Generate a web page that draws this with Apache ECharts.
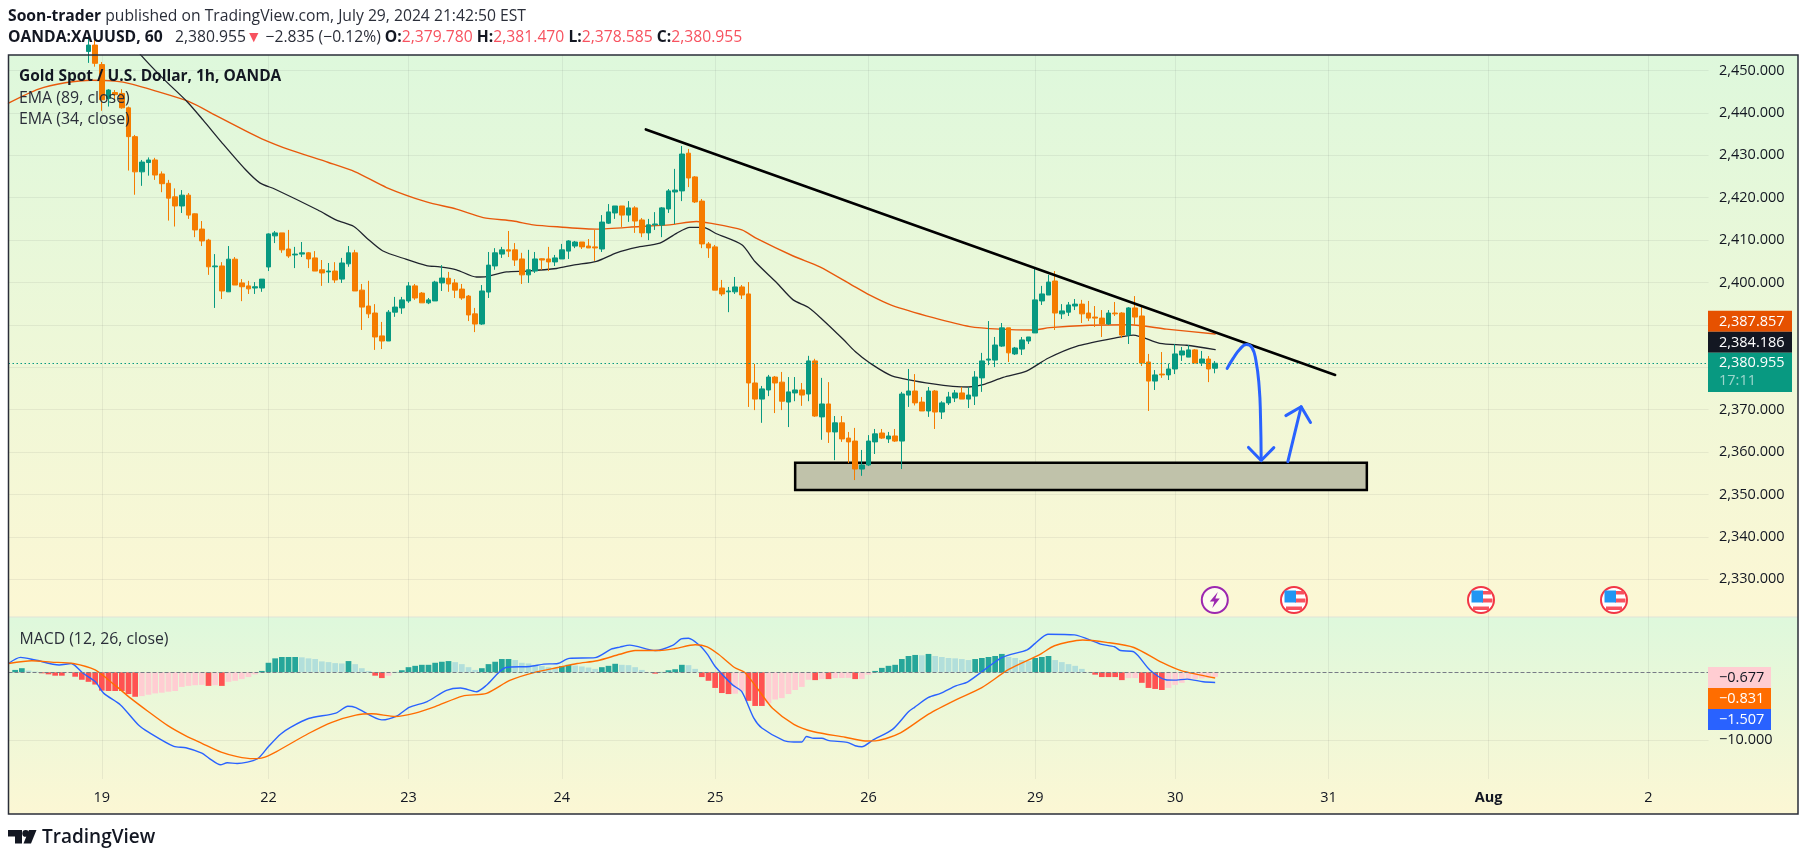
<!DOCTYPE html>
<html>
<head>
<meta charset="utf-8">
<title>XAUUSD 1h</title>
<style>
    html, body { margin: 0; padding: 0; background: #fff; }
    #chart { width: 1807px; height: 861px; }
</style>
<script src="https://cdn.jsdelivr.net/npm/echarts@6/dist/echarts.min.js"></script>
</head>
<body>
<div id="chart"></div>
<script>
// time axis: bars per day tick, as the snapshot spaced them
var barsBeforeFirstDay = 14;
var dayLabels = ['19', '22', '23', '24', '25', '26', '29', '30', '31', 'Aug', '2'];
var barsInDay = [25, 21, 23, 23, 23, 25, 21, 23, 24, 24, 10];

// price pane
var priceTicks = [2330, 2340, 2350, 2360, 2370, 2380, 2390, 2400, 2410, 2420, 2430, 2440, 2450];
var macdTicks = [-10];
var lastPrice = 2380.955;

// candles start at bar 12 (older ones are above the visible range): open, close, low, high
var firstCandleBar = 12;
var candles = [
    [2454.5, 2456, 2451.8, 2458], [2456, 2451.7, 2450.9, 2458],
    [2451.4, 2443.1, 2440.5, 2452], [2443.4, 2445.4, 2441.5, 2445.6], [2444.8, 2444.3, 2443, 2445.4],
    [2444.6, 2441.2, 2441, 2445.6], [2441.2, 2434.4, 2426.4, 2441.5], [2434.4, 2426.1, 2420.7, 2434.8],
    [2426.1, 2428.4, 2422.8, 2428.9], [2428.3, 2428.9, 2425.2, 2429.5], [2428.9, 2425.35, 2424.2, 2429.4],
    [2425.6, 2423.3, 2421.3, 2426.2], [2423.4, 2419.9, 2414.6, 2424.2], [2420.2, 2418.05, 2413.2, 2422.2],
    [2418.05, 2420.6, 2416.4, 2421.8], [2420.6, 2415.9, 2415, 2421.1], [2416.2, 2412.4, 2410.7, 2416.3],
    [2412.6, 2409.8, 2408.6, 2414.5], [2410, 2403.7, 2401.8, 2410.3], [2403.7, 2403.9, 2394, 2406.7],
    [2403.9, 2398, 2396.1, 2404.8], [2397.8, 2405.5, 2397.8, 2408.6], [2405.5, 2399.4, 2399.4, 2406],
    [2399.9, 2399, 2395.6, 2400.8], [2399.2, 2398.5, 2397.3, 2400.4], [2398.7, 2399, 2397.3, 2400.1],
    [2398.7, 2400.8, 2397.8, 2400.8],
    // 22
    [2403.66, 2411.45, 2402.7, 2411.6], [2411, 2411.7, 2409.3, 2412.15], [2411.7, 2407.7, 2407, 2411.7],
    [2407.9, 2406.25, 2405.8, 2412.4], [2406.5, 2406.7, 2403.4, 2408.4], [2406.7, 2407, 2406, 2409.55],
    [2407, 2405.55, 2403.4, 2407.2], [2405.8, 2402.7, 2402.7, 2407.4], [2403, 2402.25, 2399.2, 2405.3],
    [2402.5, 2402.7, 2399.9, 2404.6], [2402.7, 2400.6, 2399.9, 2404.8], [2400.8, 2404.6, 2399.9, 2405.8],
    [2404.4, 2407, 2403.7, 2408.6], [2407, 2398, 2398, 2407.7], [2398.2, 2394.2, 2388.8, 2399.65],
    [2394.45, 2392.6, 2391.6, 2400.4], [2392.8, 2387.15, 2384.1, 2394.9], [2387.4, 2386.2, 2384.3, 2390.7],
    [2386.2, 2393, 2386.2, 2393.5], [2393, 2394.2, 2391.9, 2396.6], [2394, 2395.9, 2392.6, 2396.6],
    // 23
    [2395.65, 2399.2, 2395.2, 2400.1], [2399.2, 2396.35, 2395.9, 2399.65], [2397.5, 2395.2, 2395.2, 2397.75],
    [2395.2, 2395.9, 2394.9, 2396.35], [2395.65, 2400.1, 2395.65, 2400.4], [2399.9, 2401.05, 2398, 2404.1],
    [2401, 2399.65, 2397.8, 2402.5], [2399.9, 2398.2, 2396.35, 2400.8], [2398.45, 2396.35, 2395.9, 2399.65],
    [2396.8, 2392.35, 2390.9, 2397.05], [2392.6, 2390.2, 2388.3, 2394], [2390.2, 2398, 2390, 2399.4],
    [2397.75, 2404.1, 2396.35, 2407.2], [2403.9, 2407, 2403, 2408.1], [2406.7, 2407.7, 2405.8, 2408.4],
    [2407.7, 2407.4, 2406, 2412.15], [2407.7, 2405.3, 2403.9, 2409.3], [2405.55, 2401.8, 2399.65, 2407],
    [2401.8, 2403, 2399.9, 2407.7], [2402.7, 2405.55, 2402.25, 2407.2], [2405.6, 2405.3, 2403, 2405.7],
    [2405.55, 2404.85, 2402.7, 2408.4], [2404.85, 2405.8, 2403.9, 2406.5],
    // 24
    [2405.55, 2407.7, 2405.55, 2409.1], [2407.4, 2409.8, 2405.55, 2410], [2408.6, 2409.55, 2408.1, 2409.8],
    [2409.55, 2408.4, 2407.9, 2409.55], [2408.6, 2408.15, 2408.15, 2410.25], [2408.4, 2408.15, 2405.1, 2412.4],
    [2407.9, 2414.25, 2407.2, 2415.9], [2414, 2416.65, 2413.8, 2418.5], [2416.4, 2418.05, 2415, 2418.05],
    [2418.05, 2415.9, 2413.1, 2418.05], [2415.9, 2417.6, 2414.3, 2419.2], [2417.6, 2414.5, 2411.7, 2418],
    [2414.75, 2411.7, 2410.7, 2415.2], [2411.7, 2413.6, 2410, 2415], [2413.6, 2413.8, 2412.4, 2416.6],
    [2413.55, 2417.6, 2410.7, 2417.8], [2417.35, 2421.6, 2416.4, 2422.05], [2421.35, 2421.8, 2413.8, 2426.8],
    [2421.6, 2430.3, 2419.2, 2432.2], [2430.5, 2424.65, 2422.5, 2431.5], [2424.9, 2419, 2418.75, 2425.1],
    [2419.2, 2409.1, 2408.1, 2419.7], [2409.1, 2408.15, 2405.8, 2409.55],
    // 25
    [2408.4, 2398.2, 2398.2, 2408.85], [2398.7, 2397.3, 2396.8, 2400.6], [2397.8, 2398, 2393, 2398.95],
    [2397.8, 2398.95, 2397.3, 2401.3], [2398.95, 2397.05, 2396.1, 2399.4], [2397.3, 2376.3, 2370.65, 2400.1],
    [2376.3, 2372.5, 2369.9, 2380.8], [2372.5, 2374.9, 2366.9, 2375.6], [2374.65, 2377.7, 2373.2, 2378.2],
    [2377.7, 2376.3, 2369.2, 2377.95], [2376.5, 2372, 2369.9, 2378.9], [2371.8, 2374.2, 2365.9, 2377.7],
    [2373.95, 2374.65, 2372, 2377.7], [2374.65, 2373.45, 2370.9, 2376.3], [2373.7, 2381.5, 2372, 2382.7],
    [2381.5, 2368.5, 2368.3, 2382], [2368.3, 2371.35, 2362.9, 2377.5], [2371.35, 2364.75, 2362.15, 2376.5],
    [2364.75, 2366.9, 2358.1, 2368.5], [2366.9, 2363.1, 2362.4, 2368.5], [2363.3, 2362.4, 2357.4, 2364.75],
    [2362.6, 2356, 2353.4, 2365.7], [2356, 2356.95, 2354.4, 2360.5],
    // 26
    [2356.95, 2362.6, 2356.7, 2364], [2362.4, 2364.3, 2359.55, 2365.45], [2364.5, 2363.3, 2363.1, 2365.45],
    [2363.1, 2363.8, 2362.15, 2364.75], [2363.8, 2362.6, 2362.4, 2365.45], [2362.6, 2373.7, 2356, 2374.2],
    [2373.45, 2374.4, 2370.65, 2379.6], [2374.4, 2371.6, 2371, 2378.4], [2371.8, 2369.7, 2369.7, 2373],
    [2369.7, 2374.4, 2368.3, 2375.35], [2374.4, 2369.45, 2365.45, 2374.65], [2369.45, 2371.6, 2367.8, 2372],
    [2371.6, 2373, 2371.1, 2374.2], [2372.75, 2373.95, 2371.8, 2374.65], [2373.95, 2372.5, 2372.5, 2375.35],
    [2372.5, 2373.45, 2370.4, 2375.35], [2373.2, 2377.7, 2371.1, 2379.1], [2377.5, 2381.5, 2374.2, 2383.4],
    [2381.7, 2381.95, 2380.5, 2390.9], [2381.7, 2385.25, 2380.05, 2387.15], [2385, 2389.3, 2384.8, 2390.45],
    [2389.3, 2383.4, 2381.25, 2389.3], [2383.15, 2384.55, 2382.9, 2384.8], [2384.3, 2386.45, 2382.9, 2387.15],
    [2386.2, 2387.15, 2385.5, 2387.15],
    // 29
    [2388.1, 2395.9, 2388.1, 2403.4], [2395.65, 2397.3, 2394.7, 2399.2], [2397.05, 2400.1, 2397.05, 2401.8],
    [2400.35, 2392.8, 2388.8, 2402.7], [2392.6, 2393.3, 2391.4, 2394.9], [2393, 2394.7, 2392.1, 2395.4],
    [2394.45, 2394.9, 2393.5, 2396.1], [2394.9, 2392.6, 2390.45, 2395.9], [2392.8, 2391.6, 2390.9, 2395.65],
    [2391.85, 2391.6, 2389.5, 2394.45], [2391.6, 2390.2, 2387.15, 2393.5], [2390.2, 2392.8, 2390, 2393.5],
    [2392.8, 2392.6, 2392.1, 2395.4], [2392.8, 2387.6, 2386.9, 2393], [2387.6, 2394, 2385.5, 2394.2],
    [2394, 2391.85, 2390, 2396.8], [2392.1, 2381, 2380.3, 2394.2], [2381.25, 2376.75, 2369.7, 2383.15],
    [2376.75, 2378.2, 2374.65, 2379.35], [2378.4, 2378.2, 2377.5, 2383.6], [2378.2, 2379.6, 2377, 2380.8],
    // 30
    [2379.6, 2383.15, 2378.4, 2385.5], [2382.9, 2383.85, 2381.5, 2384.8], [2382.4, 2384.1, 2382.4, 2385.25],
    [2384.1, 2381, 2381, 2384.3], [2381, 2381.95, 2380.3, 2383.85], [2381.95, 2379.6, 2376.5, 2382.65],
    [2379.78, 2380.955, 2378.585, 2381.47]
];

// moving averages: [bar, price]
var ema89 = [
    [0, 2442.3], [4.5, 2445.6], [8.5, 2447.1], [12.5, 2447.7], [16, 2447.5], [18.5, 2446.8], [22, 2445.2],
    [27, 2442.7], [31, 2439.5], [35.5, 2435.8], [38, 2433.9], [42, 2431.4], [48, 2428.3], [52, 2426.1],
    [56.7, 2422.4], [62.7, 2419], [67.2, 2417.3], [71.2, 2415.3], [75.7, 2414.5], [78.7, 2413.6],
    [82.7, 2413.1], [88.2, 2412.6], [94.7, 2413.2], [99.2, 2413.6], [103.2, 2414.4], [105.2, 2414],
    [110, 2412.4], [112.2, 2410.4], [117.7, 2406.25], [121.7, 2403.7], [126.5, 2399.4], [129.2, 2397],
    [132.5, 2394.6], [138.7, 2391.7], [144.2, 2389.6], [148.7, 2389], [153.7, 2388.8], [156.2, 2389.35],
    [162.2, 2389.9], [168.2, 2390.05], [173.7, 2389], [181, 2387.857]
];
var ema34 = [
    [0, 2482], [6, 2474], [12, 2467], [16, 2461], [20, 2453.4], [23.4, 2447.8], [26.8, 2442.65], [29.2, 2438.3],
    [32, 2433], [35.5, 2426.7], [37.7, 2423.5], [40, 2422], [46.4, 2417.1], [49.2, 2414.7], [51.8, 2413.2],
    [53.8, 2410.4], [56.1, 2407.5], [59.6, 2405.5], [62.7, 2404], [64.7, 2403.7], [67.2, 2403], [70.2, 2401.3],
    [71.7, 2401.4], [74.7, 2402.5], [77.7, 2402.7], [82.2, 2403.3], [84.7, 2404.1], [88.2, 2405], [91.2, 2407],
    [94.2, 2408.3], [97.7, 2409.3], [100.2, 2411.6], [102.2, 2413], [104.2, 2413], [106.2, 2411.5], [110, 2408.9],
    [112, 2404.9], [115.2, 2400], [117.7, 2395.9], [120, 2394.1], [122, 2391.4], [125.2, 2386.6], [127, 2383.7],
    [129.2, 2381], [132.5, 2378], [138.7, 2376.1], [144, 2375.35], [146.2, 2375.9], [149.2, 2377.6], [152.7, 2379.1],
    [156, 2382.2], [160.2, 2384.95], [165.7, 2386.8], [168.7, 2387.6], [172.7, 2385.65], [176.7, 2385.2], [181, 2384.186]
];

// macd pane: [bar, value] along each line, histogram one value per bar from bar 0
var macdLine = [
    [0, 1.3], [1.8, 2.2], [4, 1.8], [7.6, 1.07], [9.4, 1.3], [11.2, -0.15], [13, -1.37], [14.3, -3.1], [16.8, -4.8],
    [19.5, -7.75], [21, -8.8], [24.8, -10.9], [26.6, -11.1], [29, -11.9], [30.1, -12.65], [31.8, -13.6], [32.8, -13.3],
    [34.3, -13.4], [37.3, -12.75], [39, -10.9], [40.8, -9.1], [42.3, -8.1], [45, -6.8], [49.1, -6], [50.9, -5],
    [52.1, -5.2], [56, -7], [58.3, -6.4], [60.1, -5.15], [62.8, -4.3], [65.7, -2.65], [67.8, -2.3], [70.2, -2.85],
    [71.7, -1.9], [74.6, 0.7], [78.2, 0.85], [80.3, 1.2], [82.4, 1.3], [84.1, 2.05], [88, 2.15], [90.4, 3.4],
    [91.7, 3.7], [93.2, 4], [97, 3.2], [99.7, 4], [100.9, 4.9], [102, 5], [103.6, 4], [104.9, 2.55], [106, 0.85],
    [108.6, -1.85], [110, -2.85], [111.8, -6.75], [113, -8.2], [116.3, -10.05], [117.8, -10.25], [119, -10.25],
    [119.7, -9.45], [120.8, -9.7], [122, -9.7], [123.1, -10.05], [125.8, -10.3], [127, -10.8], [128, -10.95],
    [129.7, -9.95], [132.6, -8.4], [135, -5.8], [135.9, -5.15], [138, -3.7], [139.8, -3.1], [142.1, -2], [143.9, -1.4],
    [149, 2.15], [152.8, 3.3], [154, 4.25], [155.9, 5.6], [159.9, 5.5], [163.8, 4.15], [165.9, 3.75], [166.8, 3.2],
    [168.8, 3], [171.2, 0.35], [173.6, -1.1], [174.8, -1.15], [176.8, -1], [179.2, -1.4], [181, -1.507]
];
var macdSignal = [
    [0, 1.3], [3.5, 1.7], [6.4, 1.5], [9.7, 1.3], [13, 0.35], [15.9, -1.85], [18.3, -3.8], [21, -5.8], [23.9, -7.85],
    [26.6, -9.35], [29, -10.45], [31.9, -11.75], [34.3, -12.4], [36.7, -12.7], [38.2, -12.55], [40.2, -11.65], [45, -9],
    [48.5, -7.35], [52.1, -6.3], [54.5, -6.1], [58, -6.5], [61, -6], [64, -5.05], [68.1, -3.5], [71.7, -3.1],
    [75.2, -1.2], [78.8, -0.05], [82.4, 0.7], [85.3, 1.3], [88.3, 1.7], [91.7, 2.65], [94, 3.2], [97.7, 3.2], [100, 3.5],
    [103, 4.05], [104.8, 3.75], [106.5, 2.65], [108.9, 0.7], [110.4, 0], [112.5, -2.6], [114.6, -5.3], [117.8, -7.65],
    [120.8, -8.75], [125.5, -9.55], [128.5, -10.1], [130.3, -10.05], [133.8, -8.9], [138, -6.15], [142.1, -4.05],
    [146, -2.25], [150.1, 0.45], [154.6, 2.55], [156.9, 3.9], [161.1, 4.75], [164.7, 4.4], [168.8, 3.65], [173, 1.45],
    [175.9, 0.25], [181, -0.831]
];
var macdHist = [
    null, 0.35, 0.6, 0.25, 0.1, -0.15, -0.3, -0.5, -0.5, -0.1, -0.65,
    -1.1, -1.4, -1.8, -2.7, -2.75, -2.75, -2.75, -3.2, -3.6, -3.5,
    -3.3, -3.1, -3, -2.85, -2.75, -2.15, -2, -1.9, -1.85, -2,
    -1.9, -2, -1.4, -1.25, -1, -0.7, -0.3, 0.2, 1.4, 2.05,
    2.25, 2.25, 2.25, 2.2, 2.05, 1.95, 1.6, 1.5, 1.35, 1.3,
    1.65, 1.2, 0.6, 0.2, -0.5, -0.85, -0.5, 0.05, 0.3, 0.75,
    0.95, 1.1, 1.1, 1.4, 1.55, 1.65, 1.5, 1.2, 0.75, 0.35,
    0.6, 1.2, 1.55, 1.95, 1.95, 1.8, 1.4, 1.3, 1.1, 0.95,
    0.75, 0.6, 0.9, 1.1, 1, 0.85, 0.7, 0.5, 0.75, 0.95,
    1.25, 1.1, 1.05, 0.75, 0.35, 0.05, -0.2, 0.05, 0.3, 0.45,
    1.1, 1.05, 0.5, -0.7, -1.25, -2.3, -3.05, -3.2, -3.15, -2.8,
    -4.2, -4.95, -4.95, -4.55, -4, -3.8, -3.2, -2.6, -2.15, -1.1,
    -1.15, -1, -1, -0.85, -0.84, -0.83, -1, -0.98, -0.35, 0.2,
    0.65, 0.95, 1.1, 1.95, 2.4, 2.55, 2.5, 2.7, 2.4, 2.25,
    2.1, 2.05, 1.95, 1.8, 1.95, 2.1, 2.25, 2.4, 2.7, 2.25,
    2.1, 1.8, 1.65, 2.1, 2.25, 2.4, 1.8, 1.5, 1.2, 0.95,
    0.5, 0.05, -0.35, -0.7, -0.7, -0.7, -1.15, -0.85, -0.84, -1.55,
    -2.3, -2.45, -2.6, -2.3, -1.85, -1.55, -1, -0.98, -0.9, -0.85, -0.677
];

// hand drawn annotations in [bar, price]
var trendLine = [[95.6, 2436.1], [199, 2378.2]];
var supportZone = { fromBar: 118, toBar: 203.75, top: 2357.5, bottom: 2351.05 };
var curveDown = [[182.8, 2379.75], [183.7, 2382.1], [184.7, 2384.25], [185.7, 2385.4], [186.5, 2384.7], [187.1, 2381.7], [187.6, 2375.4], [187.8, 2368.4], [187.9, 2358.1]];
var curveDownHead = [[186, 2361.1], [187.9, 2358], [189.8, 2361.05]];
var arrowUp = [[191.9, 2357.75], [193.9, 2370.7]];
var arrowUpHead = [[191.6, 2368.6], [193.9, 2370.7], [195.3, 2367]];

var FONT = '"Open Sans", "Noto Sans", sans-serif';
var TEXT = '#131722';
var GRID = 'rgba(42,46,57,0.07)';

// category per bar, blank except the first bar of a day
var categories = [];
for (var n = 0; n < barsBeforeFirstDay; n++) { categories.push(''); }
dayLabels.forEach(function (label, d) {
    categories.push(label);
    for (var k = 1; k < barsInDay[d]; k++) { categories.push(''); }
});
categories = categories.slice(0, 256);

var candleData = [];
for (var b = 0; b < firstCandleBar; b++) { candleData.push(['-', '-', '-', '-']); }
candleData = candleData.concat(candles);

function isDay(index, value) { return value !== ''; }

function priceLabel(v) {
    return v.toLocaleString('en-US', { minimumFractionDigits: 3, maximumFractionDigits: 3 }).replace('-', '\u2212');
}

function overlay(name, data, color, width, z, smooth) {
    return {
        name: name, type: 'line', xAxisIndex: 2, yAxisIndex: 0, data: data, showSymbol: false, symbol: 'none',
        smooth: smooth || false, z: z, silent: true,
        lineStyle: { color: color, width: width, cap: 'round', join: 'round' }
    };
}

function histColor(p) {
    var prev = macdHist[p.dataIndex - 1];
    if (prev === null || prev === undefined) { prev = 0; }
    if (p.value >= 0) { return p.value >= prev ? '#26A69A' : '#B2DFDB'; }
    return p.value <= prev ? '#FF5252' : '#FFCDD2';
}

function paneFill() {
    return new echarts.graphic.LinearGradient(0, 0, 0, 1, [
        { offset: 0, color: '#DEF8DC' }, { offset: 1, color: '#FCF7D4' }
    ]);
}

function txt(x, y, text, size, color, weight, extra) {
    var style = { text: text, x: x, y: y, fontFamily: FONT, fontSize: size, fill: color || TEXT, fontWeight: weight || 'normal', verticalAlign: 'middle', align: 'left' };
    if (extra) { style.rich = extra; }
    return { type: 'text', z: 100, silent: true, style: style };
}

function box(y1, y2, right, color) {
    return { type: 'rect', z: 99, silent: true, shape: { x: 1708, y: y1, width: right - 1708, height: y2 - y1 }, style: { fill: color } };
}

function flagIcon(cx, cy) {
    return { type: 'group', x: cx, y: cy, z: 90, silent: true, children: [
        { type: 'circle', z: 90, shape: { r: 13 }, style: { fill: '#fff', stroke: '#F23645', lineWidth: 2 } },
        { type: 'rect', z: 91, shape: { x: 1, y: -9, width: 9, height: 3.5 }, style: { fill: '#F7525F' } },
        { type: 'rect', z: 91, shape: { x: 1, y: -1.5, width: 10.5, height: 4 }, style: { fill: '#F7525F' } },
        { type: 'rect', z: 91, shape: { x: -8, y: 6.5, width: 16, height: 3.5 }, style: { fill: '#F7525F' } },
        { type: 'rect', z: 92, shape: { x: -9.5, y: -9.5, width: 11.5, height: 12 }, style: { fill: '#2196F3' } }
    ] };
}

var HEAD_SIZE = 15.7;
var boldRich = {
    b: { fontFamily: FONT, fontSize: HEAD_SIZE, fontWeight: 'bold', fill: TEXT },
    n: { fontFamily: FONT, fontSize: HEAD_SIZE, fill: '#2a2e39' },
    r: { fontFamily: FONT, fontSize: HEAD_SIZE, fill: '#F7525F' }
};

var graphics = [
    // panes
    { type: 'rect', z: -10, silent: true, shape: { x: 8.5, y: 55, width: 1789.5, height: 562 }, style: { fill: paneFill() } },
    { type: 'rect', z: -10, silent: true, shape: { x: 8.5, y: 617, width: 1789.5, height: 197 }, style: { fill: paneFill() } },
    { type: 'line', z: -9, silent: true, shape: { x1: 8.5, y1: 617, x2: 1798, y2: 617 }, style: { stroke: '#E0E3D8', lineWidth: 1 } },
    { type: 'rect', z: 100, silent: true, shape: { x: 8.5, y: 55, width: 1789.5, height: 759 }, style: { fill: 'none', stroke: '#2A2E39', lineWidth: 1.5 } },

    // header
    txt(8, 17, '{b|Soon-trader} {n|published on TradingView.com, July 29, 2024 21:42:50 EST}', HEAD_SIZE, TEXT, 'normal', boldRich),
    txt(8, 38, '{b|OANDA:XAUUSD, 60}   {n|2,380.955}{r|\u25BC} {n|\u22122.835 (\u22120.12%)} {b|O:}{r|2,379.780} {b|H:}{r|2,381.470} {b|L:}{r|2,378.585} {b|C:}{r|2,380.955}', HEAD_SIZE, TEXT, 'normal', boldRich),

    // legends
    txt(19, 77, 'Gold Spot / U.S. Dollar, 1h, OANDA', 15.5, TEXT, 'bold'),
    txt(19, 98, 'EMA (89, close)', 15.9, '#2a2e39'),
    txt(19, 119, 'EMA (34, close)', 15.9, '#2a2e39'),
    txt(19.5, 639, 'MACD (12, 26, close)', 15.8, '#2a2e39'),

    // last value tags on the price scale
    box(310.7, 331.7, 1792, '#E65100'), txt(1719, 321.5, '2,387.857', 14.5, '#fff'),
    box(331.7, 352.7, 1792, '#131722'), txt(1719, 342.5, '2,384.186', 14.5, '#fff'),
    box(352.7, 392, 1792, '#089981'), txt(1719, 363, '2,380.955', 14.5, '#fff'), txt(1719, 381, '17:11', 14.5, 'rgba(255,255,255,0.6)'),

    // last value tags on the macd scale
    box(667, 688, 1771, '#FFCDD2'), txt(1719, 677.5, '\u22120.677', 14.5, TEXT),
    box(688, 709, 1771, '#FF6D00'), txt(1719, 698.5, '\u22120.831', 14.5, '#fff'),
    box(709, 730, 1771, '#2962FF'), txt(1719, 719.5, '\u22121.507', 14.5, '#fff'),

    // event icons
    { type: 'group', x: 1214.8, y: 600, z: 90, silent: true, children: [
        { type: 'circle', z: 90, shape: { r: 13 }, style: { fill: 'rgba(255,255,255,0.6)', stroke: '#9C27B0', lineWidth: 2 } },
        { type: 'polygon', z: 91, shape: { points: [[3, -8], [-5, 1.5], [-0.5, 1.5], [-2.5, 8], [5, -1.5], [0.5, -1.5]] }, style: { fill: '#9C27B0' } }
    ] },
    flagIcon(1294, 600), flagIcon(1481, 600), flagIcon(1614, 600),

    // logo
    { type: 'polygon', z: 100, silent: true, shape: { points: [[8, 830], [22, 830], [22, 843.5], [15, 843.5], [15, 836.5], [8, 836.5]] }, style: { fill: TEXT } },
    { type: 'circle', z: 100, silent: true, shape: { cx: 25.7, cy: 833.4, r: 3.4 }, style: { fill: TEXT } },
    { type: 'polygon', z: 100, silent: true, shape: { points: [[29, 830], [36.5, 830], [31, 843.5], [23.5, 843.5]] }, style: { fill: TEXT } },
    txt(42, 838, 'TradingView', 19, TEXT, 600)
];

var chart = echarts.init(document.getElementById('chart'), null, { renderer: 'canvas' });

chart.setOption({
    animation: false,
    backgroundColor: '#fff',
    textStyle: { fontFamily: FONT },
    graphic: graphics,
    grid: [
        { left: 8.5, width: 1700, top: 55, height: 562, containLabel: false },
        { left: 8.5, width: 1700, top: 617, height: 162, containLabel: false }
    ],
    xAxis: [
        {
            type: 'category', gridIndex: 0, data: categories, boundaryGap: false,
            axisLine: { show: false }, axisTick: { show: false }, axisLabel: { show: false },
            splitLine: { show: true, interval: isDay, lineStyle: { color: GRID, width: 1 } }
        },
        {
            type: 'category', gridIndex: 1, data: categories, boundaryGap: false,
            axisLine: { show: false }, axisTick: { show: false },
            axisLabel: {
                show: true, interval: isDay, margin: 11, color: TEXT, fontFamily: FONT, fontSize: 14.5, hideOverlap: false,
                formatter: function (v) { return v === 'Aug' ? '{m|Aug}' : v; },
                rich: { m: { fontFamily: FONT, fontSize: 14.5, fontWeight: 'bold', color: TEXT } }
            },
            splitLine: { show: true, interval: isDay, lineStyle: { color: GRID, width: 1 } }
        },
        { type: 'value', gridIndex: 0, min: 0, max: 255, show: false, splitLine: { show: false } },
        { type: 'value', gridIndex: 1, min: 0, max: 255, show: false, splitLine: { show: false } }
    ],
    yAxis: [
        {
            type: 'value', gridIndex: 0, position: 'right', min: 2321.1, max: 2453.66, scale: true,
            axisLine: { show: false }, axisTick: { show: false, customValues: priceTicks },
            axisLabel: { color: TEXT, fontFamily: FONT, fontSize: 14.5, margin: 10.5, customValues: priceTicks, formatter: priceLabel },
            splitLine: { show: true, lineStyle: { color: GRID, width: 1 } }
        },
        {
            type: 'value', gridIndex: 1, position: 'right', min: -15.69, max: 8.13,
            axisLine: { show: false }, axisTick: { show: false, customValues: macdTicks },
            axisLabel: { color: TEXT, fontFamily: FONT, fontSize: 14.5, margin: 10.5, customValues: macdTicks, formatter: priceLabel },
            splitLine: { show: true, lineStyle: { color: GRID, width: 1 } }
        }
    ],
    series: [
        // support zone sits under the candles
        {
            name: 'zone', type: 'line', xAxisIndex: 2, yAxisIndex: 0, data: [], z: 1, silent: true,
            markArea: {
                silent: true,
                itemStyle: { color: '#C0C2AA', borderColor: '#000', borderWidth: 2.5 },
                data: [[{ xAxis: supportZone.fromBar, yAxis: supportZone.top }, { xAxis: supportZone.toBar, yAxis: supportZone.bottom }]]
            }
        },
        overlay('EMA 89', ema89, '#E8590C', 1.4, 2, 0.25),
        overlay('EMA 34', ema34, '#20242E', 1.3, 2, 0.25),
        {
            name: 'XAUUSD', type: 'candlestick', xAxisIndex: 0, yAxisIndex: 0, data: candleData, barWidth: 5, z: 3, silent: true,
            itemStyle: { color: '#089981', color0: '#F57C00', borderColor: '#089981', borderColor0: '#F57C00', borderWidth: 1 },
            markLine: {
                silent: true, symbol: 'none', animation: false, label: { show: false },
                lineStyle: { color: '#089981', type: [1.5, 2.5], width: 1.2 },
                data: [{ yAxis: lastPrice }]
            }
        },
        overlay('trend', trendLine, '#000', 2.6, 6),
        overlay('curve', curveDown, '#2962FF', 3, 6, 0.5),
        overlay('curveHead', curveDownHead, '#2962FF', 3, 6),
        overlay('up', arrowUp, '#2962FF', 3, 6),
        overlay('upHead', arrowUpHead, '#2962FF', 3, 6),
        {
            name: 'Histogram', type: 'bar', xAxisIndex: 1, yAxisIndex: 1, data: macdHist, barWidth: 5.7, z: 2, silent: true,
            itemStyle: { color: histColor },
            markLine: {
                silent: true, symbol: 'none', animation: false, label: { show: false },
                lineStyle: { color: '#787B86', type: 'dashed', width: 1 },
                data: [{ yAxis: 0 }]
            }
        },
        {
            name: 'MACD', type: 'line', xAxisIndex: 3, yAxisIndex: 1, data: macdLine, showSymbol: false, symbol: 'none', smooth: 0.25, z: 3, silent: true,
            lineStyle: { color: '#2962FF', width: 1.4 }
        },
        {
            name: 'Signal', type: 'line', xAxisIndex: 3, yAxisIndex: 1, data: macdSignal, showSymbol: false, symbol: 'none', smooth: 0.25, z: 3, silent: true,
            lineStyle: { color: '#FF6D00', width: 1.4 }
        }
    ]
});
</script>
</body>
</html>
